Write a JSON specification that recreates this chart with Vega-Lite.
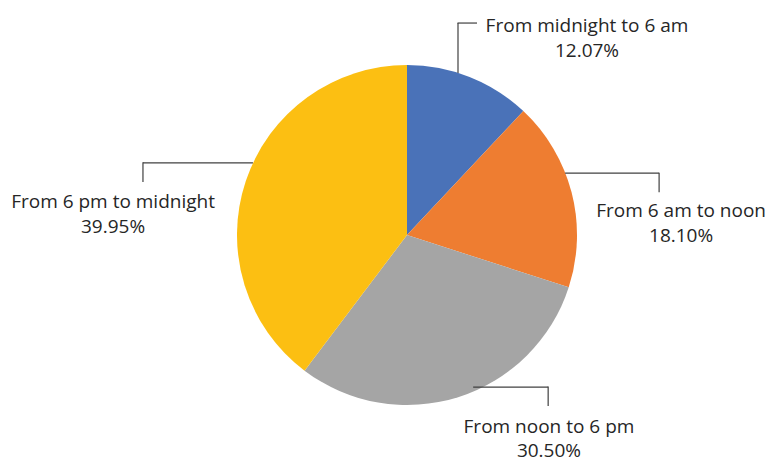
{
  "$schema": "https://vega.github.io/schema/vega-lite/v6.json",
  "autosize": {"type": "none"},
  "width": 724,
  "height": 458,
  "padding": {"left": 45, "top": 6, "right": 0, "bottom": 0},
  "background": "white",
  "config": {"view": {"stroke": null}},
  "data": {
    "values": [
      {"k": 1, "category": "From midnight to 6 am", "value": 12.07},
      {"k": 2, "category": "From 6 am to noon", "value": 18.10},
      {"k": 3, "category": "From noon to 6 pm", "value": 30.50},
      {"k": 4, "category": "From 6 pm to midnight", "value": 39.95}
    ]
  },
  "transform": [
    {"joinaggregate": [{"op": "sum", "field": "value", "as": "total"}]},
    {"window": [{"op": "sum", "field": "value", "as": "cum"}], "sort": [{"field": "k", "order": "ascending"}], "frame": [null, 0]},
    {"calculate": "(datum.cum - datum.value / 2) / datum.total * 2 * PI", "as": "mid"},
    {"calculate": "250 * sin(datum.mid)", "as": "lx"},
    {"calculate": "250 * cos(datum.mid)", "as": "ly"},
    {"calculate": "[datum.category, format(datum.value, '.2f') + '%']", "as": "label"}
  ],
  "layer": [
    {
      "mark": {"type": "arc", "outerRadius": 170, "stroke": null},
      "encoding": {
        "theta": {"field": "value", "type": "quantitative", "stack": true},
        "order": {"field": "k", "type": "quantitative", "sort": "ascending"},
        "color": {
          "field": "category",
          "type": "nominal",
          "legend": null,
          "scale": {
            "domain": ["From midnight to 6 am", "From 6 am to noon", "From noon to 6 pm", "From 6 pm to midnight"],
            "range": ["#4A72B8", "#EE7D31", "#A5A5A5", "#FCBF12"]
          }
        }
      }
    },
    {
      "transform": [{"filter": "datum.k == 1"}],
      "encoding": {
        "x": {"field": "lx", "type": "quantitative", "scale": {"domain": [-362, 362], "nice": false, "zero": false}, "axis": null},
        "y": {"field": "ly", "type": "quantitative", "scale": {"domain": [-229, 229], "nice": false, "zero": false}, "axis": null}
      },
      "layer": [
        {"mark": {"type": "rule", "color": "#404040", "strokeWidth": 1.2, "xOffset": -41, "x2Offset": -41, "yOffset": 20.5, "y2Offset": 70.5}, "encoding": {"x2": {"field": "lx"}, "y2": {"field": "ly"}}},
        {"mark": {"type": "rule", "color": "#404040", "strokeWidth": 1.2, "xOffset": -41.5, "x2Offset": -22, "yOffset": 20.5, "y2Offset": 20.5}, "encoding": {"x2": {"field": "lx"}, "y2": {"field": "ly"}}},
        {"mark": {"type": "text", "font": "Open Sans", "fontSize": 19, "color": "#262626", "align": "center", "baseline": "alphabetic", "lineHeight": 25, "dx": 88, "dy": 29.5}, "encoding": {"text": {"field": "label"}}}
      ]
    },
    {
      "transform": [{"filter": "datum.k == 2"}],
      "encoding": {
        "x": {"field": "lx", "type": "quantitative", "axis": null},
        "y": {"field": "ly", "type": "quantitative", "axis": null}
      },
      "layer": [
        {"mark": {"type": "rule", "color": "#404040", "strokeWidth": 1.2, "xOffset": -84, "x2Offset": 10, "yOffset": 0.5, "y2Offset": 0.5}, "encoding": {"x2": {"field": "lx"}, "y2": {"field": "ly"}}},
        {"mark": {"type": "rule", "color": "#404040", "strokeWidth": 1.2, "xOffset": 10, "x2Offset": 10, "yOffset": 0, "y2Offset": 19.5}, "encoding": {"x2": {"field": "lx"}, "y2": {"field": "ly"}}},
        {"mark": {"type": "text", "font": "Open Sans", "fontSize": 19, "color": "#262626", "align": "center", "baseline": "alphabetic", "lineHeight": 25, "dx": 32, "dy": 44.3}, "encoding": {"text": {"field": "label"}}}
      ]
    },
    {
      "transform": [{"filter": "datum.k == 3"}],
      "encoding": {
        "x": {"field": "lx", "type": "quantitative", "axis": null},
        "y": {"field": "ly", "type": "quantitative", "axis": null}
      },
      "layer": [
        {"mark": {"type": "rule", "color": "#404040", "strokeWidth": 1.2, "xOffset": -9, "x2Offset": 66, "yOffset": -86.4, "y2Offset": -86.4}, "encoding": {"x2": {"field": "lx"}, "y2": {"field": "ly"}}},
        {"mark": {"type": "rule", "color": "#404040", "strokeWidth": 1.2, "xOffset": 66, "x2Offset": 66, "yOffset": -87, "y2Offset": -67.4}, "encoding": {"x2": {"field": "lx"}, "y2": {"field": "ly"}}},
        {"mark": {"type": "text", "font": "Open Sans", "fontSize": 19, "color": "#262626", "align": "center", "baseline": "alphabetic", "lineHeight": 24, "dx": 66.8, "dy": -40.4}, "encoding": {"text": {"field": "label"}}}
      ]
    },
    {
      "transform": [{"filter": "datum.k == 4"}],
      "encoding": {
        "x": {"field": "lx", "type": "quantitative", "axis": null},
        "y": {"field": "ly", "type": "quantitative", "axis": null}
      },
      "layer": [
        {"mark": {"type": "rule", "color": "#404040", "strokeWidth": 1.2, "xOffset": -27, "x2Offset": 83, "yOffset": 7.4, "y2Offset": 7.4}, "encoding": {"x2": {"field": "lx"}, "y2": {"field": "ly"}}},
        {"mark": {"type": "rule", "color": "#404040", "strokeWidth": 1.2, "xOffset": -27, "x2Offset": -27, "yOffset": 6.8, "y2Offset": 26.4}, "encoding": {"x2": {"field": "lx"}, "y2": {"field": "ly"}}},
        {"mark": {"type": "text", "font": "Open Sans", "fontSize": 19, "color": "#262626", "align": "center", "baseline": "alphabetic", "lineHeight": 25, "dx": -56.9, "dy": 52.4}, "encoding": {"text": {"field": "label"}}}
      ]
    }
  ]
}
